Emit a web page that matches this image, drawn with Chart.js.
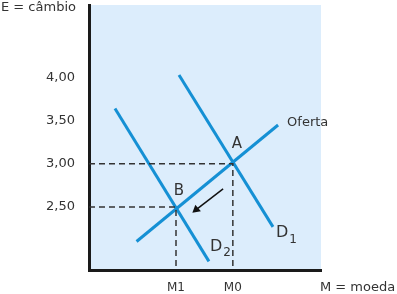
<!DOCTYPE html>
<html>
<head>
<meta charset="utf-8">
<script src="https://cdn.jsdelivr.net/npm/chart.js@4.4.1/dist/chart.umd.min.js"></script>
<style>
  html, body { margin: 0; padding: 0; background: #fff; }
  #wrap { width: 397px; height: 294px; }
</style>
</head>
<body>
<div id="wrap"><canvas id="chart" width="397" height="294"></canvas></div>
<script>
// --- data ---
const yTicks = [2.5, 3.0, 3.5, 4.0];
const xTickNames = ['M1', 'M0'];
const xTickValues = [3.75, 6.2];
const pointA = { x: 6.2, y: 3.0 };
const pointB = { x: 3.75, y: 2.5 };
const oferta = [{ x: 2.05, y: 2.10 }, { x: 8.15, y: 3.45 }];
const demand1 = [{ x: 3.88, y: 4.03 }, { x: 7.93, y: 2.27 }];
const demand2 = [{ x: 1.12, y: 3.64 }, { x: 5.17, y: 1.87 }];
const shiftArrow = [{ x: 5.78, y: 2.71 }, { x: 4.62, y: 2.47 }];

const Y_MIN = 1.77, Y_MAX = 4.84;
const X_MIN = 0, X_MAX = 10;

const BLUE = '#1590d4';
const INK = '#333333';
const FONT = '"DejaVu Sans", Verdana, sans-serif';

// dashed guides from the axes to A and B
const guideA = [{ x: X_MIN, y: pointA.y }, pointA, { x: pointA.x, y: Y_MIN }];
const guideB = [{ x: X_MIN, y: pointB.y }, pointB, { x: pointB.x, y: Y_MIN }];

// background of the plot area
const bgPlugin = {
  id: 'plotBg',
  beforeDraw(chart) {
    const { ctx, chartArea: a } = chart;
    ctx.save();
    ctx.fillStyle = '#dcedfc';
    ctx.fillRect(a.left, a.top, a.right - a.left, a.bottom - a.top);
    ctx.restore();
  }
};

// text labels: axis names, A, B, Oferta, D1, D2
const labelPlugin = {
  id: 'labels',
  afterDraw(chart) {
    const { ctx } = chart;
    const xs = chart.scales.x, ys = chart.scales.y;
    const px = v => xs.getPixelForValue(v);
    const py = v => ys.getPixelForValue(v);
    ctx.save();
    ctx.fillStyle = INK;
    ctx.textBaseline = 'middle';

    ctx.font = '13px ' + FONT;
    ctx.textAlign = 'left';
    ctx.fillText('E = câmbio', 1, 8);
    ctx.fillText('M = moeda', 320, 288);
    ctx.fillText('Oferta', px(oferta[1].x) + 9, py(oferta[1].y) - 2);

    ctx.font = '15px ' + FONT;
    ctx.textAlign = 'center';
    ctx.fillText('A', px(pointA.x) + 4, py(pointA.y) - 20);
    ctx.fillText('B', px(pointB.x) + 3, py(pointB.y) - 16);

    // D1 / D2 with subscripts
    const sub = (main, s, x, y) => {
      ctx.textAlign = 'left';
      ctx.font = '16px ' + FONT;
      ctx.fillText(main, x, y);
      const w = ctx.measureText(main).width;
      ctx.font = '12px ' + FONT;
      ctx.fillText(s, x + w + 1, y + 7);
    };
    sub('D', '1', px(demand1[1].x) + 3, py(demand1[1].y) + 6);
    sub('D', '2', px(demand2[1].x) + 1, py(demand2[1].y) - 15);
    ctx.restore();
  }
};

const lineDs = (data, extra) => Object.assign({
  data,
  borderColor: BLUE,
  borderWidth: 3,
  pointRadius: 0,
  showLine: true,
  fill: false,
  tension: 0
}, extra);

// keep Chart.js from adding half-label padding at the ends of the axes
const noEdgePadding = s => {
  s.paddingTop = 0; s.paddingBottom = 0;
  s.paddingLeft = 0; s.paddingRight = 0;
};

new Chart(document.getElementById('chart'), {
  type: 'scatter',
  data: {
    datasets: [
      lineDs(guideA, { borderColor: INK, borderWidth: 1.5, borderDash: [6, 4] }),
      lineDs(guideB, { borderColor: INK, borderWidth: 1.5, borderDash: [6, 4] }),
      lineDs(oferta),
      lineDs(demand1),
      lineDs(demand2),
      lineDs(shiftArrow, {
        borderColor: '#111',
        borderWidth: 1.5,
        pointRadius: [0, 5],
        pointStyle: 'triangle',
        rotation: [0, 230],
        pointBackgroundColor: '#111',
        pointBorderColor: '#111',
        pointBorderWidth: 0
      })
    ]
  },
  options: {
    responsive: false,
    animation: false,
    layout: { padding: { left: 0, top: 4, right: 76, bottom: 0 } },
    plugins: {
      legend: { display: false },
      tooltip: { enabled: false }
    },
    scales: {
      x: {
        type: 'linear',
        min: X_MIN,
        max: X_MAX,
        grid: { display: false, drawTicks: false },
        border: { display: true, color: '#1a1a1a', width: 3 },
        afterBuildTicks: s => { s.ticks = xTickValues.map(v => ({ value: v })); },
        afterFit: s => { s.height = 24; noEdgePadding(s); },
        ticks: {
          padding: 11,
          color: INK,
          font: { family: FONT, size: 12 },
          callback: (v) => xTickNames[xTickValues.indexOf(v)]
        }
      },
      y: {
        type: 'linear',
        min: Y_MIN,
        max: Y_MAX,
        grid: { display: false, drawTicks: false },
        border: { display: true, color: '#1a1a1a', width: 3 },
        afterBuildTicks: s => { s.ticks = yTicks.map(v => ({ value: v })); },
        afterFit: s => { s.width = 89; noEdgePadding(s); },
        ticks: {
          padding: 14,
          color: INK,
          font: { family: FONT, size: 13 },
          callback: v => v.toFixed(2).replace('.', ',')
        }
      }
    }
  },
  plugins: [bgPlugin, labelPlugin]
});
</script>
</body>
</html>
